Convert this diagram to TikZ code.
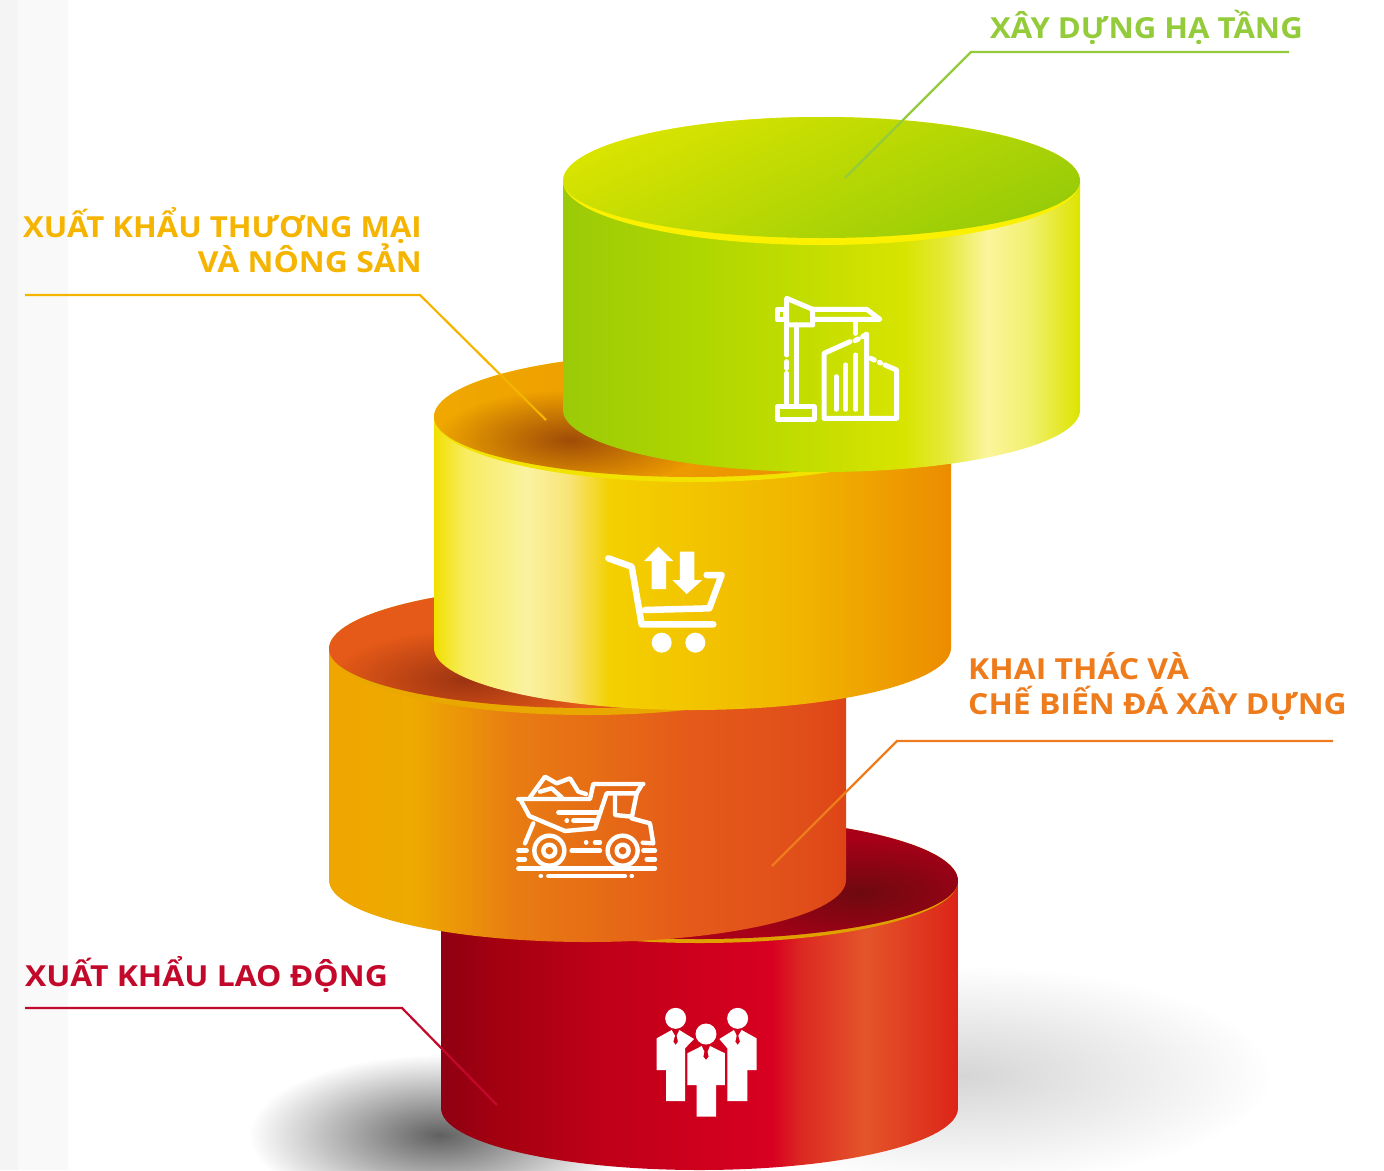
\documentclass[tikz,border=0pt]{standalone}
\usepackage{fontspec}
\setmainfont{Open Sans}
\usetikzlibrary{fadings}
\newfontfamily\lblfont[FakeStretch=1.072]{Open Sans Bold}
\newfontfamily\lblwide[FakeStretch=1.10]{Open Sans Bold}
\definecolor{cgreen}{HTML}{93CB3A}
\definecolor{cyell}{HTML}{F5B400}
\definecolor{corg}{HTML}{EE7B1C}
\definecolor{cred}{HTML}{C3092B}
\definecolor{stripA}{HTML}{F4F4F4}
\definecolor{stripB}{HTML}{F9F9F9}
\definecolor{ga}{HTML}{9BCA08}\definecolor{gb}{HTML}{AFD600}\definecolor{gc}{HTML}{C6DE00}\definecolor{gd}{HTML}{D8E400}\definecolor{ge}{HTML}{E6E93A}\definecolor{gf}{HTML}{FBF59C}\definecolor{gg}{HTML}{F2F070}\definecolor{gh}{HTML}{DCE400}
\definecolor{ya}{HTML}{F0E000}\definecolor{yb}{HTML}{F8EC60}\definecolor{yc}{HTML}{FBF2A0}\definecolor{yd}{HTML}{F8E478}\definecolor{ye}{HTML}{F3D000}\definecolor{yf}{HTML}{F1B600}\definecolor{yg}{HTML}{EC8C00}
\definecolor{oa}{HTML}{EFA600}\definecolor{ob}{HTML}{EEAA00}\definecolor{oc}{HTML}{E87C12}\definecolor{od}{HTML}{E55A1A}\definecolor{oe}{HTML}{E04E1A}\definecolor{of}{HTML}{DE4416}
\definecolor{ra}{HTML}{8F0012}\definecolor{rb}{HTML}{A50010}\definecolor{rc}{HTML}{C00018}\definecolor{rd}{HTML}{D80020}\definecolor{re}{HTML}{DC2A22}\definecolor{rf}{HTML}{E4552A}\definecolor{rg}{HTML}{DC2418}
\definecolor{rimG}{HTML}{FBF000}\definecolor{rimY}{HTML}{F2E200}\definecolor{rimO}{HTML}{E8A800}\definecolor{rimR}{HTML}{E0A000}
\definecolor{topGa}{HTML}{DAE400}\definecolor{topGb}{HTML}{98CC08}
\definecolor{topYa}{HTML}{F0A800}\definecolor{topYb}{HTML}{E98A00}\definecolor{topYd}{HTML}{A04C08}
\definecolor{topO}{HTML}{E55A18}\definecolor{topOd}{HTML}{9E3412}
\definecolor{topR}{HTML}{A80018}\definecolor{topRd}{HTML}{6E0A10}
\tikzfading[name=softspot, inner color=transparent!0, outer color=transparent!100]
% horizontal shadings: 25bp..75bp spans the path width
\pgfdeclarehorizontalshading{sideG}{100bp}{
 color(0bp)=(ga); color(25bp)=(ga); color(38bp)=(gb); color(50bp)=(gc);
 color(58bp)=(gd); color(62bp)=(ge); color(66bp)=(gf); color(70bp)=(gg); color(75bp)=(gh); color(100bp)=(gh)}
\pgfdeclarehorizontalshading{sideY}{100bp}{
 color(0bp)=(ya); color(25bp)=(ya); color(28bp)=(yb); color(34bp)=(yc); color(38bp)=(yd);
 color(42bp)=(ye); color(60bp)=(yf); color(75bp)=(yg); color(100bp)=(yg)}
\pgfdeclarehorizontalshading{sideO}{100bp}{
 color(0bp)=(oa); color(25bp)=(oa); color(33bp)=(ob); color(43bp)=(oc);
 color(60bp)=(od); color(71bp)=(oe); color(75bp)=(of); color(100bp)=(of)}
\pgfdeclarehorizontalshading{sideR}{100bp}{
 color(0bp)=(ra); color(25bp)=(ra); color(31bp)=(rb); color(41bp)=(rc); color(57bp)=(rd);
 color(60bp)=(re); color(66bp)=(rf); color(75bp)=(rg); color(100bp)=(rg)}
\tikzset{
  iconline/.style={draw=white,line width=5pt,line join=round,line cap=round},
  iconthin/.style={draw=white,line width=4.4pt,line join=round,line cap=round},
  iconfill/.style={fill=white,draw=none},
  leader/.style={line width=2.2pt,line join=miter},
  lbl/.style={anchor=base east,inner sep=0pt,font=\lblfont\fontsize{29}{35}\selectfont},
  lblw/.style={anchor=base west,inner sep=0pt,font=\lblwide\fontsize{29}{35}\selectfont},
}
% #1 left, #2 right, #3 top y, #4 bottom y, #5 shading
\newcommand{\cylside}[5]{\shade[shading=#5] (#1,#3) -- (#1,#4) arc[start angle=180,end angle=360,x radius=258.5pt,y radius=62pt] -- (#2,#3) -- cycle;}
% #1 left, #2 mid y, #3 lower half radius
\newcommand{\facepath}[3]{(#1,#2) arc[start angle=180,end angle=0,x radius=258.5pt,y radius=64pt] arc[start angle=0,end angle=-180,x radius=258.5pt,y radius=#3pt] -- cycle}
\begin{document}
\begin{tikzpicture}[x=1pt,y=-1pt]
\useasboundingbox (0,0) rectangle (1384,1170);
% page strips
\fill[white] (0,0) rectangle (1384,1170);
\fill[stripA] (0,0) rectangle (18,1170);
\fill[stripB] (18,0) rectangle (68,1170);
% shadows
\begin{scope}
\clip (0,0) rectangle (1384,1170);
\fill[black!16,path fading=softspot] (965,1075) ellipse[x radius=305pt,y radius=108pt];
\fill[black!62,path fading=softspot] (440,1135) ellipse[x radius=190pt,y radius=80pt];
\end{scope}
% red cylinder
\cylside{441}{958}{880}{1108}{sideR}
\fill[rimR] \facepath{441}{881}{62};
\begin{scope}
\clip \facepath{441}{881}{58};
\fill[topR] (441,800) rectangle (958,960);
\fill[topRd,path fading=softspot] (860,893) ellipse[x radius=150pt,y radius=55pt];
\end{scope}
% orange cylinder
\cylside{329}{846}{648}{880}{sideO}
\fill[rimO] \facepath{329}{649}{66};
\begin{scope}
\clip \facepath{329}{649}{59};
\fill[topO] (329,580) rectangle (846,720);
\fill[topOd,path fading=softspot] (465,680) ellipse[x radius=135pt,y radius=50pt];
\end{scope}
% yellow cylinder
\cylside{434}{951}{417}{648}{sideY}
\fill[rimY] \facepath{434}{417}{65};
\begin{scope}
\clip \facepath{434}{417}{60};
\shade[left color=topYa,right color=topYb] (434,350) rectangle (951,480);
\fill[topYd,path fading=softspot] (570,440) ellipse[x radius=135pt,y radius=50pt];
\end{scope}
% green cylinder
\cylside{563}{1080}{181}{410}{sideG}
\fill[rimG] \facepath{563}{181}{64};
\shade[left color=topGa,right color=topGb,shading angle=25] \facepath{563}{181}{57};
% leaders
\coordinate (gA) at (1289,52); \coordinate (gB) at (971,52); \coordinate (gC) at (845,178);
\draw[leader,draw=cgreen] (gA) -- (gB) -- (gC);
\coordinate (yA) at (25,295); \coordinate (yB) at (420,295); \coordinate (yC) at (546,420);
\draw[leader,draw=cyell] (yA) -- (yB) -- (yC);
\coordinate (oA) at (1333,741); \coordinate (oB) at (897,741); \coordinate (oC) at (772,866);
\draw[leader,draw=corg] (oA) -- (oB) -- (oC);
\coordinate (rA) at (25,1008); \coordinate (rB) at (402,1008); \coordinate (rC) at (497,1105);
\draw[leader,draw=cred] (rA) -- (rB) -- (rC);
% labels
\node[lbl,anchor=base west,text=cgreen] (t1) at (990,38) {XÂY DỰNG HẠ TẦNG};
\node[lbl,text=cyell] (t2) at (422,237) {XUẤT KHẨU THƯƠNG MẠI};
\node[lbl,font=\lblwide\fontsize{29}{35}\selectfont,text=cyell] (t3) at (422,272) {VÀ NÔNG SẢN};
\node[lblw,text=corg] (t4) at (968,679) {KHAI THÁC VÀ};
\node[lblw,text=corg] (t5) at (968,714) {CHẾ BIẾN ĐÁ XÂY DỰNG};
\node[lblw,text=cred] (t6) at (25,986) {XUẤT KHẨU LAO ĐỘNG};
% crane icon
\begin{scope}[shift={(740,270)},x=0.3333pt,y=-0.3333pt]
\draw[iconline] (140,165)--(140,255) (140,275)--(140,295) (140,310)--(140,410) (170,165)--(170,410);
\draw[iconline] (112,410) rectangle (222,448);
\draw[iconline] (140,85)--(218,118)--(218,165)--(140,165)--cycle;
\draw[iconline] (112,118) rectangle (135,150);
\draw[iconline] (218,118)--(380,118)--(420,148)--(218,148);
\draw[iconline] (347,150)--(347,190);
\draw[iconline] (330,215)--(252,250)--(252,445)--(470,445)--(470,300)--(435,285);
\draw[iconline] (345,212)--(355,207) (368,200)--(380,192)--(380,445);
\draw[iconline] (392,265)--(403,270) (418,277)--(422,279);
\draw[iconline] (288,320)--(288,418) (318,285)--(318,418) (348,255)--(348,418);
\end{scope}
% cart icon
\begin{scope}[shift={(590,530)},x=0.3333pt,y=-0.3333pt]
\draw[iconline,line width=6.5pt] (55,85)--(125,110)--(155,283)--(370,283);
\draw[iconline,line width=6.5pt] (165,240)--(358,235)--(395,135)--(350,135);
\fill[iconfill] (215,338) circle[radius=10pt] (316,338) circle[radius=10pt];
\fill[iconfill] (205,50)--(250,93)--(228,93)--(228,177)--(185,177)--(185,93)--(162,93)--cycle;
\fill[iconfill] (270,65)--(313,65)--(313,150)--(337,150)--(290,192)--(247,150)--(270,150)--cycle;
\end{scope}
% truck icon
\begin{scope}[shift={(500,760)},x=0.3333pt,y=-0.3333pt]
\draw[iconthin] (55,117)--(270,117)--(280,72)--(430,72);
\draw[iconthin] (62,120)--(88,168)--(195,213)--(285,205)--(320,100)--(410,100)--(425,75);
\draw[iconthin] (90,112)--(135,50)--(170,70)--(210,55)--(235,95)--(258,102);
\draw[iconthin] (120,95)--(155,85)--(185,112);
\draw[iconthin] (410,100)--(395,175)--(450,190)--(460,250)--(428,248);
\draw[iconthin] (345,110)--(345,165)--(395,170);
\draw[iconthin] (100,190)--(75,250);
\draw[iconthin] (148,272) circle[radius=15pt] (368,272) circle[radius=15pt];
\draw[iconthin] (148,272) circle[radius=6pt] (368,272) circle[radius=6pt];
\draw[iconthin] (215,272)--(300,272) (55,272)--(80,272) (55,298)--(75,298) (440,298)--(465,298) (430,272)--(465,272);
\draw[iconthin] (55,325)--(465,325) (145,348)--(375,348) (122,348)--(123,348) (395,348)--(396,348);
\draw[iconthin] (175,157)--(300,157) (220,182)--(285,182) (200,182)--(201,182) (258,247)--(259,247) (285,247)--(300,247);
\end{scope}
% people icon
\begin{scope}[shift={(640,995)},x=0.3333pt,y=-0.3333pt]
\fill[iconfill] (107,70) circle[radius=10.5pt] (293,70) circle[radius=10.5pt] (198,117) circle[radius=10.5pt];
\fill[iconfill] (50,130)--(95,105)--(105,122)--(100,140)--(107,150)--(114,140)--(110,122)--(118,105)--(162,132)--(135,160)--(135,318)--(78,318)--(78,225)--(50,225)--cycle;
\fill[iconfill] (350,130)--(305,105)--(295,122)--(300,140)--(293,150)--(286,140)--(290,122)--(282,105)--(238,132)--(262,160)--(262,318)--(322,318)--(322,225)--(350,225)--cycle;
\fill[iconfill] (142,175)--(185,153)--(193,170)--(190,185)--(198,195)--(206,185)--(203,170)--(210,153)--(255,175)--(255,270)--(228,270)--(228,365)--(170,365)--(170,270)--(142,270)--cycle;
\end{scope}
\end{tikzpicture}
\end{document}
